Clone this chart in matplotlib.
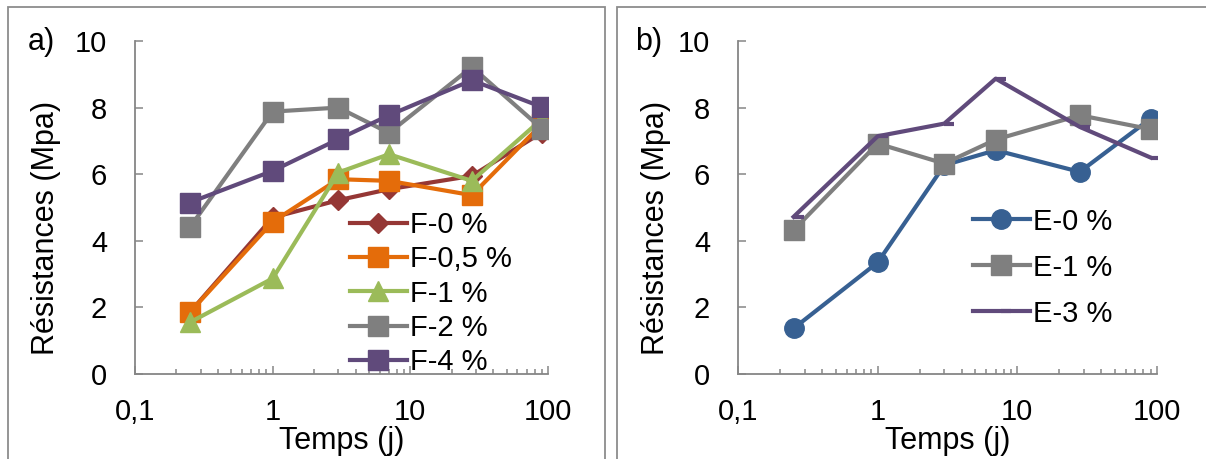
import matplotlib

matplotlib.use("Agg")

import matplotlib.pyplot as plt
from matplotlib.patches import Rectangle
from matplotlib.path import Path
from matplotlib.ticker import FixedLocator, NullFormatter

plt.rcParams["font.family"] = ["Liberation Sans", "DejaVu Sans"]

# data
temps = [0.25, 1, 3, 7, 28, 90]

f_labels = ["F-0 %", "F-0,5 %", "F-1 %", "F-2 %", "F-4 %"]
f_0 = [1.85, 4.70, 5.22, 5.55, 5.95, 7.25]
f_05 = [1.85, 4.57, 5.85, 5.80, 5.37, 7.50]
f_1 = [1.55, 2.87, 6.05, 6.60, 5.80, 7.65]
f_2 = [4.40, 7.88, 8.00, 7.24, 9.22, 7.37]
f_4 = [5.15, 6.10, 7.05, 7.77, 8.82, 8.02]

e_labels = ["E-0 %", "E-1 %", "E-3 %"]
e_0 = [1.37, 3.35, 6.27, 6.72, 6.07, 7.67]
e_1 = [4.32, 6.92, 6.32, 7.04, 7.77, 7.35]
e_3 = [4.72, 7.14, 7.52, 8.87, 7.42, 6.50]

x_ticks = [0.1, 1, 10, 100]
x_tick_labels = ["0,1", "1", "10", "100"]
y_ticks = [0, 2, 4, 6, 8, 10]

W, H = 1206, 459
AXIS_GREY = "#868686"
TICK_SIZE = 21
LABEL_SIZE = 22
LEGEND_SIZE = 21

# dash marker drawn to the right of the point, like the Excel one
dash_right = Path([[0, 0], [1, 0]])


def px_box(left, top, right, bottom):
    return [left / W, 1 - bottom / H, (right - left) / W, (bottom - top) / H]


def style_axes(ax):
    ax.set_xscale("log")
    ax.set_xlim(0.1, 100)
    ax.set_ylim(0, 10)
    ax.xaxis.set_major_locator(FixedLocator(x_ticks))
    ax.set_xticklabels(x_tick_labels)
    minors = [m * d for d in (0.1, 1, 10) for m in range(2, 10)]
    ax.xaxis.set_minor_locator(FixedLocator(minors))
    ax.xaxis.set_minor_formatter(NullFormatter())
    ax.set_yticks(y_ticks)
    for side in ("top", "right"):
        ax.spines[side].set_visible(False)
    for side in ("left", "bottom"):
        ax.spines[side].set_color(AXIS_GREY)
        ax.spines[side].set_linewidth(1.3)
    ax.tick_params(axis="x", which="major", direction="in", length=5.5, width=1.1,
                   color=AXIS_GREY, labelsize=TICK_SIZE, pad=17)
    ax.tick_params(axis="x", which="minor", direction="in", length=3.5, width=1.1,
                   color=AXIS_GREY)
    ax.tick_params(axis="y", direction="in", length=6, width=1.1,
                   color=AXIS_GREY, labelsize=TICK_SIZE, pad=20)
    ax.set_xlabel("Temps (j)", fontsize=LABEL_SIZE, labelpad=0)


fig = plt.figure(figsize=(W / 100, H / 100), dpi=100)

# the two grey chart frames
for left, right in ((8, 605), (617, 1212)):
    fig.patches.append(Rectangle((left / W, -0.1), (right - left) / W, (H - 7) / H + 0.1,
                                 transform=fig.transFigure, fill=False,
                                 edgecolor="#8c8c8c", linewidth=1.3))

ax_a = fig.add_axes(px_box(135, 41, 548, 374))
ax_b = fig.add_axes(px_box(738, 41, 1157, 374))

lw = 3
ax_a.plot(temps, f_0, color="#953735", lw=lw, marker="D", ms=10, label=f_labels[0])
ax_a.plot(temps, f_05, color="#E46C0A", lw=lw, marker="s", ms=14, label=f_labels[1])
ax_a.plot(temps, f_1, color="#9BBB59", lw=lw, marker="^", ms=15, label=f_labels[2])
ax_a.plot(temps, f_2, color="#7F7F7F", lw=lw, marker="s", ms=14, label=f_labels[3])
ax_a.plot(temps, f_4, color="#604A7B", lw=lw, marker="s", ms=14, label=f_labels[4])

ax_b.plot(temps, e_0, color="#376092", lw=lw, marker="o", ms=14, label=e_labels[0])
ax_b.plot(temps, e_1, color="#7F7F7F", lw=lw, marker="s", ms=14, label=e_labels[1])
ax_b.plot(temps, e_3, color="#604A7B", lw=lw, marker=dash_right, ms=14, mew=lw,
          label=e_labels[2])

for ax in (ax_a, ax_b):
    style_axes(ax)

ax_a.legend(loc="upper left", bbox_to_anchor=(0.52, 0.49), frameon=False,
            fontsize=LEGEND_SIZE, borderpad=0, borderaxespad=0, handlelength=1.95,
            handletextpad=0.1, labelspacing=0.22)
ax_b.legend(loc="upper left", bbox_to_anchor=(0.561, 0.5), frameon=False,
            fontsize=LEGEND_SIZE, borderpad=0, borderaxespad=0, handlelength=1.95,
            handletextpad=0.1, labelspacing=0.62)

fig.text(46 / W, 1 - 228 / H, "Résistances (Mpa)", rotation=90, ha="center", va="center",
         fontsize=LABEL_SIZE)
fig.text(656 / W, 1 - 228 / H, "Résistances (Mpa)", rotation=90, ha="center", va="center",
         fontsize=LABEL_SIZE)
fig.text(41 / W, 1 - 42 / H, "a)", ha="center", va="center", fontsize=LABEL_SIZE)
fig.text(649 / W, 1 - 42 / H, "b)", ha="center", va="center", fontsize=LABEL_SIZE)

fig.savefig("out.png", dpi=100)
